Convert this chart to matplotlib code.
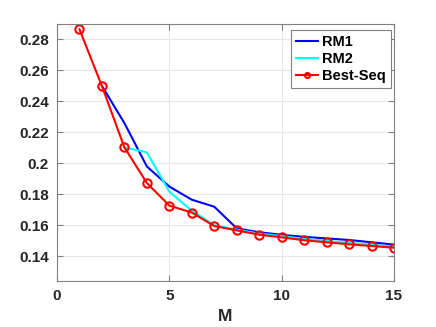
import numpy as np
import matplotlib
matplotlib.use("Agg")
from matplotlib import pyplot as plt

plt.rcParams['font.family'] = ['Liberation Sans', 'DejaVu Sans']
plt.rcParams['font.weight'] = 'bold'

# dati
m_rm1 = [2, 3, 4, 5, 6, 7, 8, 9, 10, 11, 12, 13, 14, 15]
rm1 = [0.250, 0.226, 0.198, 0.185, 0.1765, 0.172, 0.158, 0.1555, 0.1538,
       0.1525, 0.1515, 0.1505, 0.149, 0.1475]

m_rm2 = [3, 4, 5, 6, 7, 8, 9, 10, 11, 12, 13, 14, 15]
rm2 = [0.2103, 0.2071, 0.1817, 0.1694, 0.1600, 0.1572, 0.1546, 0.1530,
       0.1512, 0.1499, 0.1486, 0.1474, 0.1463]

m_best = [1, 2, 3, 4, 5, 6, 7, 8, 9, 10, 11, 12, 13, 14, 15]
best = [0.2866, 0.2499, 0.2103, 0.1873, 0.1727, 0.1682, 0.1595, 0.1567,
        0.1539, 0.1522, 0.1503, 0.149, 0.1477, 0.1466, 0.1455]

xticks = [0, 5, 10, 15]
yticks = [0.14, 0.16, 0.18, 0.2, 0.22, 0.24, 0.26, 0.28]
ytick_labels = ["0.14", "0.16", "0.18", "0.2", "0.22", "0.24", "0.26", "0.28"]

f1 = plt.figure(figsize=(4.36, 3.27), dpi=100)
ax1 = f1.add_axes([57/436, 1 - 281/327, (394 - 57)/436, (281 - 24)/327])

ax1.plot(m_rm1, rm1, '-', color='blue', linewidth=1.5, label='RM1')
ax1.plot(m_rm2, rm2, '-', color='cyan', linewidth=1.5, label='RM2')
ax1.plot(m_best, best, 'o-', color='red', linewidth=1.5, markersize=6,
         markerfacecolor='none', markeredgewidth=1.5, label='Best-Seq')

ax1.set_xlim((0, 15))
ax1.set_ylim((0.124, 0.29))
ax1.set_xticks(xticks)
ax1.set_yticks(yticks)
ax1.set_yticklabels(ytick_labels)
ax1.grid(True, color='#e6e6e6', linewidth=0.8)
ax1.set_axisbelow(True)

for s in ax1.spines.values():
    s.set_color('#808080')
    s.set_linewidth(0.8)
ax1.tick_params(direction='in', top=True, right=True, length=4,
                color='#808080', labelsize=11, labelcolor='#262626', pad=6)

ax1.set_xlabel('M', fontsize=12.5, fontweight='bold', color='#262626', labelpad=4)

leg = ax1.legend(loc='upper right', fontsize=10.5, handlelength=1.5,
                 handletextpad=0.3, borderpad=0.35, labelspacing=0.2,
                 fancybox=False, framealpha=1, borderaxespad=0,
                 bbox_to_anchor=(391/436, 1 - 30/327),
                 bbox_transform=f1.transFigure, markerscale=0.6)
leg.get_frame().set_edgecolor('#808080')
leg.get_frame().set_linewidth(0.8)

f1.savefig('out.png', dpi=100)
